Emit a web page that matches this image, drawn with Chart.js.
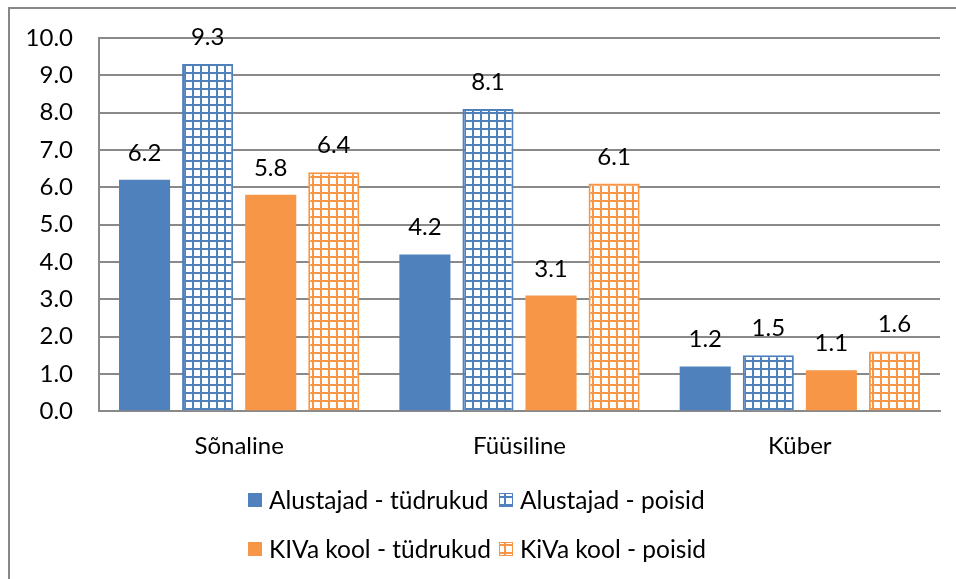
<!DOCTYPE html>
<html>
<head>
<meta charset="utf-8">
<script src="https://cdn.jsdelivr.net/npm/chart.js@4.4.1/dist/chart.umd.min.js"></script>
<style>
    html, body { margin: 0; padding: 0; background: #fff; }
    #wrap { position: relative; width: 956px; height: 579px; overflow: hidden; }
    #frame { position: absolute; left: 8px; top: 7px; width: 1000px; height: 1000px; border: 2px solid #878787; }
    canvas { position: absolute; left: 0; top: 0; }
</style>
</head>
<body>
<div id="wrap">
    <div id="frame"></div>
    <canvas id="chart" width="956" height="579"></canvas>
</div>
<script>
const categories = ['Sõnaline', 'Füüsiline', 'Küber'];
const seriesNames = ['Alustajad - tüdrukud', 'Alustajad - poisid', 'KIVa kool - tüdrukud', 'KiVa kool - poisid'];
const alustajadTudrukud = [6.2, 4.2, 1.2];
const alustajadPoisid = [9.3, 8.1, 1.5];
const kivaTudrukud = [5.8, 3.1, 1.1];
const kivaPoisid = [6.4, 6.1, 1.6];
const yMin = 0;
const yMax = 10;
const yStep = 1;

const BLUE = '#4F81BD';
const ORANGE = '#F79646';
const GRID = '#898989';
const FONT = 'Lato';
const FONT_SIZE = 24;

const ctx = document.getElementById('chart').getContext('2d');

// ruudukujuline muster (Exceli "grid" täide)
function gridPattern(color) {
    const p = document.createElement('canvas');
    p.width = 8;
    p.height = 8;
    const c = p.getContext('2d');
    c.fillStyle = '#fff';
    c.fillRect(0, 0, 8, 8);
    c.fillStyle = color;
    c.fillRect(0, 0, 8, 2);
    c.fillRect(0, 0, 2, 8);
    return ctx.createPattern(p, 'repeat');
}

const fills = [BLUE, gridPattern(BLUE), ORANGE, gridPattern(ORANGE)];
const borders = [BLUE, BLUE, ORANGE, ORANGE];
const values = [alustajadTudrukud, alustajadPoisid, kivaTudrukud, kivaPoisid];

// väärtused tulpade kohal
const valueLabels = {
    id: 'valueLabels',
    afterDatasetsDraw(chart) {
        const c = chart.ctx;
        c.save();
        c.font = FONT_SIZE + 'px ' + FONT;
        c.fillStyle = '#000';
        c.textAlign = 'center';
        c.textBaseline = 'alphabetic';
        chart.data.datasets.forEach((ds, i) => {
            chart.getDatasetMeta(i).data.forEach((bar, j) => {
                c.fillText(ds.data[j].toFixed(1), bar.x, bar.y - 19);
            });
        });
        c.restore();
    }
};

// legend 2x2 nagu originaalis
const gridLegend = {
    id: 'gridLegend',
    afterDraw(chart) {
        const c = chart.ctx;
        const cols = [248, 499];
        const rows = [500, 549];
        c.save();
        c.font = '24.5px ' + FONT;
        c.textAlign = 'left';
        c.textBaseline = 'middle';
        chart.data.datasets.forEach((ds, i) => {
            const x = cols[i % 2];
            const y = rows[Math.floor(i / 2)];
            c.fillStyle = ds.backgroundColor;
            c.fillRect(x, y - 7, 14, 14);
            c.strokeStyle = ds.borderColor;
            c.lineWidth = 1;
            c.strokeRect(x + 0.5, y - 6.5, 13, 13);
            c.fillStyle = '#000';
            c.fillText(ds.label, x + 21, y + 1);
        });
        c.restore();
    }
};

new Chart(ctx, {
    type: 'bar',
    data: {
        labels: categories,
        datasets: seriesNames.map((name, i) => ({
            label: name,
            data: values[i],
            backgroundColor: fills[i],
            borderColor: borders[i],
            borderWidth: i % 2 ? 2 : 0
        }))
    },
    options: {
        responsive: false,
        animation: false,
        layout: { padding: { left: 0, right: 16, top: 20, bottom: 97 } },
        datasets: {
            bar: { categoryPercentage: 0.9, barPercentage: 0.81 }
        },
        scales: {
            x: {
                grid: { display: false, drawTicks: false },
                border: { display: true, color: GRID, width: 2 },
                ticks: { color: '#000', font: { family: FONT, size: FONT_SIZE }, padding: 21 }
            },
            y: {
                min: yMin,
                max: yMax,
                afterFit(scale) { scale.width = 99; },
                grid: { color: GRID, lineWidth: 2, drawTicks: false },
                border: { display: true, color: GRID, width: 2 },
                ticks: {
                    stepSize: yStep,
                    color: '#000',
                    padding: 26,
                    font: { family: FONT, size: FONT_SIZE, lineHeight: 1 },
                    callback: v => v.toFixed(1)
                }
            }
        },
        plugins: {
            legend: { display: false },
            tooltip: { enabled: false }
        }
    },
    plugins: [valueLabels, gridLegend]
});
</script>
</body>
</html>
